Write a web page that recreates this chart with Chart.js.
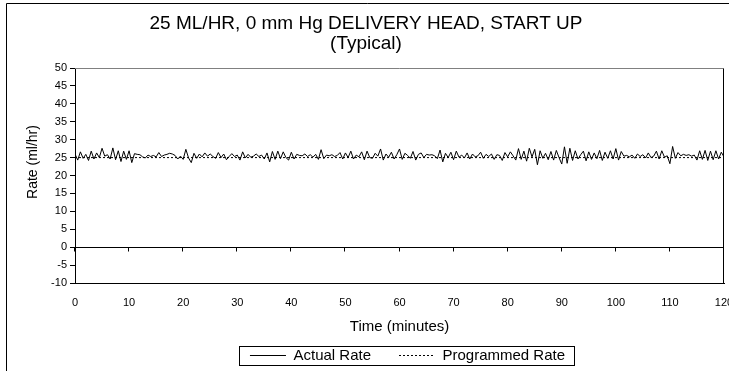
<!DOCTYPE html>
<html>
<head>
<meta charset="utf-8">
<script src="https://cdn.jsdelivr.net/npm/chart.js@4/dist/chart.umd.min.js"></script>
<style>
html,body{margin:0;padding:0;background:#fff;}
#wrap{width:729px;height:371px;position:relative;}
canvas{display:block;}
</style>
</head>
<body>
<div id="wrap"><canvas id="c" width="729" height="371"></canvas></div>
<script>
const titleLines = ['25 ML/HR, 0 mm Hg DELIVERY HEAD, START UP', '(Typical)'];
const xTitle = 'Time (minutes)';
const yTitle = 'Rate (ml/hr)';
const seriesNames = ['Actual Rate', 'Programmed Rate'];

const xTicks = [0, 10, 20, 30, 40, 50, 60, 70, 80, 90, 100, 110, 120];
const yTicks = [-10, -5, 0, 5, 10, 15, 20, 25, 30, 35, 40, 45, 50];

const times = [
  0,0.5,1,1.5,2,2.5,3,3.5,4,4.5, 5,5.5,6,6.5,7,7.5,8,8.5,9,9.5,
  10,10.5,11,11.5,12,12.5,13,13.5,14,14.5, 15,15.5,16,16.5,17,17.5,18,18.5,19,19.5,
  20,20.5,21,21.5,22,22.5,23,23.5,24,24.5, 25,25.5,26,26.5,27,27.5,28,28.5,29,29.5,
  30,30.5,31,31.5,32,32.5,33,33.5,34,34.5, 35,35.5,36,36.5,37,37.5,38,38.5,39,39.5,
  40,40.5,41,41.5,42,42.5,43,43.5,44,44.5, 45,45.5,46,46.5,47,47.5,48,48.5,49,49.5,
  50,50.5,51,51.5,52,52.5,53,53.5,54,54.5, 55,55.5,56,56.5,57,57.5,58,58.5,59,59.5,
  60,60.5,61,61.5,62,62.5,63,63.5,64,64.5, 65,65.5,66,66.5,67,67.5,68,68.5,69,69.5,
  70,70.5,71,71.5,72,72.5,73,73.5,74,74.5, 75,75.5,76,76.5,77,77.5,78,78.5,79,79.5,
  80,80.5,81,81.5,82,82.5,83,83.5,84,84.5, 85,85.5,86,86.5,87,87.5,88,88.5,89,89.5,
  90,90.5,91,91.5,92,92.5,93,93.5,94,94.5, 95,95.5,96,96.5,97,97.5,98,98.5,99,99.5,
  100,100.5,101,101.5,102,102.5,103,103.5,104,104.5, 105,105.5,106,106.5,107,107.5,108,108.5,109,109.5,
  110,110.5,111,111.5,112,112.5,113,113.5,114,114.5, 115,115.5,116,116.5,117,117.5,118,118.5,119,119.5,
  120
];

const actualRate = [
  26.0,24.3,26.6,24.8,25.9,24.2,26.8,24.6,26.3,25.0,
  27.6,25.4,25.8,24.6,27.7,24.4,26.9,23.9,26.8,24.5,
  26.9,23.6,26.1,25.9,25.8,25.2,24.9,25.7,25.3,25.6,
  25.2,26.4,25.3,25.7,25.9,26.2,26.0,25.6,24.6,25.4,
  24.5,27.3,24.9,23.6,26.2,24.8,26.0,25.2,26.3,25.4,
  26.0,25.3,24.8,26.4,25.0,26.0,24.4,25.3,26.1,25.3,
  25.7,24.3,26.6,24.9,25.9,25.1,25.4,26.0,25.3,25.7,
  24.6,26.3,23.8,26.7,24.5,26.8,24.7,26.6,25.0,24.3,
  26.5,24.6,25.9,25.6,25.5,26.0,25.3,25.8,25.1,25.9,
  24.5,27.2,24.7,25.7,25.5,25.8,25.3,25.6,26.4,24.6,
  26.3,25.0,26.8,24.6,25.7,25.2,26.6,24.4,26.8,25.0,
  24.8,26.2,25.4,27.4,24.3,26.0,25.1,26.5,24.6,25.8,
  27.4,24.5,26.2,25.6,24.8,26.7,24.3,25.9,26.3,25.0,
  25.9,25.7,25.8,25.5,24.7,27.1,23.8,26.2,25.0,26.5,
  24.4,26.8,25.1,25.7,24.9,26.3,24.6,26.0,25.2,25.5,
  26.5,24.8,25.9,25.3,26.0,24.5,25.8,25.6,24.2,26.4,
  25.2,26.6,25.5,24.3,27.5,24.5,26.8,24.0,27.6,25.2,
  27.3,23.0,26.9,24.8,26.2,24.4,26.7,24.3,27.0,25.0,
  23.2,28.0,23.4,27.6,24.2,26.9,24.6,25.8,26.8,24.1,
  26.6,24.5,26.3,24.7,27.0,24.2,26.5,24.8,26.9,24.6,
  27.5,24.3,26.7,25.4,25.6,25.2,25.7,24.8,26.0,25.3,
  25.8,24.9,26.3,25.0,25.4,26.8,24.6,26.9,25.1,25.5,
  23.3,28.1,24.8,26.4,25.5,25.9,25.6,25.8,25.4,25.7,
  24.3,26.9,24.5,27.0,24.2,26.8,24.4,26.9,24.6,26.5,
  25.2
];

const programmedTimes = [0, 120];
const programmedRate = [25, 25];

const FONT = "'Liberation Sans', Arial, Helvetica, sans-serif";
Chart.defaults.font.family = FONT;
Chart.defaults.color = '#000';

const framePlugin = {
  id: 'frame',
  beforeDraw(chart) {
    const ctx = chart.ctx;
    ctx.save();
    ctx.fillStyle = '#fff';
    ctx.fillRect(0, 0, chart.width, chart.height);
    ctx.restore();
  },
  afterLayout(chart) {
    const lg = chart.legend;
    if (lg) { lg.left += 8; lg.right += 8; }
  },
  beforeDatasetsDraw(chart) {
    const {ctx, chartArea: a, scales: {x, y}} = chart;
    ctx.save();
    ctx.lineWidth = 1;
    const top = Math.round(a.top) + 0.5;
    const right = Math.round(a.right) - 0.5;
    ctx.strokeStyle = '#808080';
    ctx.beginPath();
    ctx.moveTo(a.left, top); ctx.lineTo(right, top);
    ctx.stroke();
    ctx.strokeStyle = '#000';
    ctx.beginPath();
    ctx.moveTo(right, top); ctx.lineTo(right, a.bottom);
    const y0 = Math.round(y.getPixelForValue(0)) + 0.5;
    ctx.moveTo(a.left, y0); ctx.lineTo(right, y0);
    xTicks.forEach(v => {
      const px = Math.round(x.getPixelForValue(v)) - 0.5;
      ctx.moveTo(px, y0); ctx.lineTo(px, y0 + 4);
    });
    ctx.stroke();
    ctx.restore();
  },
  afterDraw(chart) {
    const ctx = chart.ctx;
    ctx.save();
    ctx.strokeStyle = '#000';
    ctx.lineWidth = 1;
    ctx.beginPath();
    ctx.moveTo(6.5, chart.height); ctx.lineTo(6.5, 3.5); ctx.lineTo(chart.width, 3.5);
    ctx.stroke();
    // y axis title
    ctx.save();
    ctx.translate(33, 162);
    ctx.rotate(-Math.PI / 2);
    ctx.fillStyle = '#000';
    ctx.font = '14px ' + FONT;
    ctx.textAlign = 'center';
    ctx.textBaseline = 'middle';
    ctx.fillText(yTitle, 0, 0);
    ctx.restore();
    const lg = chart.legend;
    if (lg && lg.lineWidths) {
      const p = lg.options.labels.padding;
      const lw = lg.lineWidths[0];
      const startX = (lg.left + p + lg.right - lw) / 2;
      const endX = startX + lw - p;
      const fs = lg.options.labels.font.size;
      const cy = lg.top + p + fs / 2;
      ctx.strokeRect(Math.round(startX - 11) + 0.5, Math.round(cy - 10) + 0.5,
                     Math.round(endX - startX + 20), 19);
    }
    ctx.restore();
  }
};

new Chart(document.getElementById('c'), {
  type: 'line',
  data: {
    datasets: [
      {
        label: seriesNames[0],
        data: times.map((t, i) => ({x: t, y: actualRate[i]})),
        borderColor: '#000',
        backgroundColor: '#000',
        borderWidth: 1,
        pointRadius: 0,
        pointStyle: 'line',
        tension: 0,
        fill: false
      },
      {
        label: seriesNames[1],
        data: programmedTimes.map((t, i) => ({x: t, y: programmedRate[i]})),
        borderColor: '#000',
        backgroundColor: '#000',
        borderWidth: 1,
        borderDash: [2, 2],
        pointRadius: 0,
        pointStyle: 'line',
        tension: 0,
        fill: false
      }
    ]
  },
  options: {
    responsive: false,
    animation: false,
    devicePixelRatio: 1,
    events: [],
    layout: {padding: {left: 8, right: 5, top: 3, bottom: -2}},
    plugins: {
      title: {
        display: true,
        text: titleLines,
        color: '#000',
        font: {family: FONT, size: 19, weight: 'normal', lineHeight: '20px'},
        padding: {top: 11, bottom: 14}
      },
      legend: {
        display: true,
        position: 'bottom',
        fullSize: false,
        labels: {
          usePointStyle: true,
          pointStyleWidth: 36,
          padding: 28,
          color: '#000',
          font: {family: FONT, size: 15},
          generateLabels(chart) {
            const items = Chart.defaults.plugins.legend.labels.generateLabels(chart);
            items.forEach(it => {
              const ds = chart.data.datasets[it.datasetIndex];
              it.lineDash = ds.borderDash || [];
              it.lineWidth = 1;
              it.strokeStyle = '#000';
              it.fillStyle = '#000';
              it.pointStyle = 'line';
            });
            return items;
          }
        }
      },
      tooltip: {enabled: false}
    },
    scales: {
      x: {
        type: 'linear',
        min: 0, max: 120,
        afterBuildTicks: s => { s.ticks = xTicks.map(v => ({value: v})); },
        ticks: {font: {family: FONT, size: 11}, color: '#000', padding: 13, maxRotation: 0, autoSkip: false},
        grid: {display: true, drawOnChartArea: false, drawTicks: false, color: '#000'},
        border: {display: true, color: '#000'},
        title: {display: true, text: xTitle, color: '#000', font: {family: FONT, size: 15, lineHeight: '18px'}, padding: {top: 0, bottom: -15.5}},
        afterFit: s => { s.height = 37; s.paddingLeft = 0; s.paddingRight = 0; }
      },
      y: {
        type: 'linear',
        min: -10, max: 50,
        afterBuildTicks: s => { s.ticks = yTicks.map(v => ({value: v})); },
        ticks: {font: {family: FONT, size: 11}, color: '#000', padding: 3},
        grid: {display: true, drawOnChartArea: false, drawTicks: true, tickLength: 5, color: '#000'},
        border: {display: true, color: '#000'},
        title: {display: false, text: yTitle},
        afterFit: s => { s.width = 67; s.paddingTop = 0; s.paddingBottom = 0; }
      }
    }
  },
  plugins: [framePlugin]
});
</script>
</body>
</html>
